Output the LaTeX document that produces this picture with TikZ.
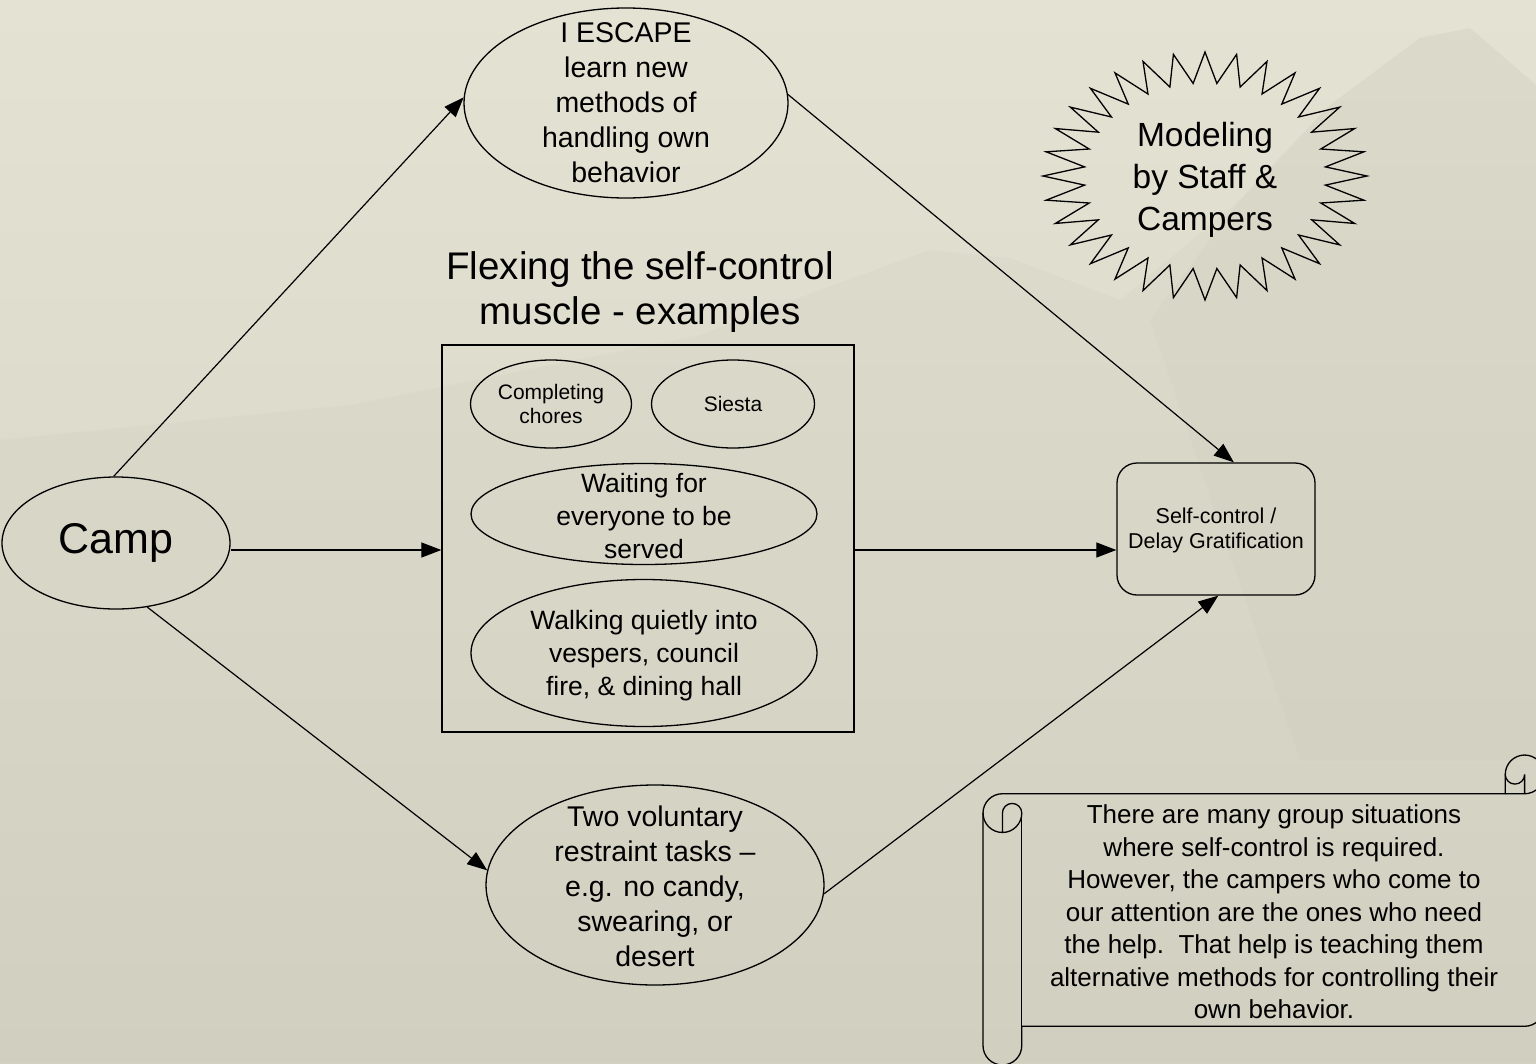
\documentclass[tikz,border=0pt]{standalone}
\usepackage{fontspec}
\setmainfont{Liberation Sans}
\usetikzlibrary{arrows.meta,shapes.geometric,calc}
\definecolor{paperTop}{HTML}{E3E2D3}
\definecolor{paperMid}{HTML}{DAD9CA}
\definecolor{paperBot}{HTML}{D3D2C3}
\definecolor{hill}{HTML}{BDBCAD}
\begin{document}
\begin{tikzpicture}[x=1pt,y=-1pt,
  outline/.style={draw=black,line width=1.3pt},
  oval/.style={outline,ellipse,inner sep=0pt},
  conn/.style={draw=black,line width=1.2pt,-{Triangle[length=20pt,width=15pt]}},
  txt/.style={align=center,text=black,inner sep=0pt},
  big/.style={font=\fontsize{28.5}{35}\selectfont},
  mid/.style={font=\fontsize{26.5}{33}\selectfont},
  small/.style={font=\fontsize{21}{24}\selectfont}]

% paper background with a faint hill silhouette
\useasboundingbox (0,0) rectangle (1536,1063);
\shade[top color=paperTop,middle color=paperMid,bottom color=paperBot] (0,0) rectangle (1536,1063);
\fill[hill,opacity=.10] (0,440) -- (350,405) -- (700,335) -- (820,290) -- (930,250)
  -- (1010,258) -- (1120,300) -- (1240,200) -- (1330,105) -- (1420,38) -- (1470,28)
  -- (1536,85) -- (1536,1063) -- (0,1063) -- cycle;
\fill[hill,opacity=.10] (1150,320) -- (1240,200) -- (1330,105) -- (1420,38) -- (1470,28)
  -- (1536,85) -- (1536,760) -- (1300,760) -- cycle;

% main nodes
\node[oval,minimum width=228pt,minimum height=132pt] (camp) at (116,543) {};
\node[txt,font=\fontsize{43}{50}\selectfont] (campT) at (camp) {Camp};

\node[oval,minimum width=324pt,minimum height=190pt] (esc) at (626,103) {};
\node[txt,big] (escT) at (626,103) {I ESCAPE\\learn new\\methods of\\handling own\\behavior};

\node[txt,font=\fontsize{38.5}{45}\selectfont] (title) at (640,292) {Flexing the self-control\\muscle - examples};

\node[outline,rectangle,minimum width=412pt,minimum height=387pt,inner sep=0pt] (box) at (648,538.5) {};
\node[oval,minimum width=161pt,minimum height=88pt] (chores) at (551,404) {};
\node[txt,small] (choresT) at (chores) {Completing\\chores};
\node[oval,minimum width=163pt,minimum height=88pt] (siesta) at (733,404) {};
\node[txt,small] (siestaT) at (siesta) {Siesta};
\node[oval,minimum width=346pt,minimum height=101pt] (wait) at (644,514) {};
\node[txt,mid] (waitT) at (644,516) {Waiting for\\everyone to be\\served};
\node[oval,minimum width=346pt,minimum height=147pt] (walk) at (644,653) {};
\node[txt,mid] (walkT) at (644,656) {Walking quietly into\\vespers, council\\fire, \& dining hall};

\node[oval,minimum width=338pt,minimum height=200pt] (tasks) at (655,885) {};
\node[txt,big] (tasksT) at (655,886) {Two voluntary\\restraint tasks --\\e.g. no candy,\\swearing, or\\desert};

\node[outline,rectangle,rounded corners=20pt,minimum width=198pt,minimum height=132pt,inner sep=0pt] (goal) at (1216,529) {};
\node[txt,font=\fontsize{21.5}{25}\selectfont] (goalT) at (1216,530) {Self-control /\\Delay Gratification};

% 32-point burst
\draw[line width=1.3pt,line join=miter] plot[samples=65,domain=0:64,variable=\k]
  ({1205+ifthenelse(mod(\k,2)==0,162,121)*cos(90+\k*5.625)},
   {176-ifthenelse(mod(\k,2)==0,124,93)*sin(90+\k*5.625)}) -- cycle;
\node[txt,font=\fontsize{33.5}{42}\selectfont] (model) at (1205,180) {Modeling\\by Staff \&\\Campers};

% connectors
\coordinate (lvl) at (0,550);
\draw[conn] (camp.92) -- (esc.178);
\draw[conn] (camp.east |- lvl) -- (box.west |- lvl);
\draw[conn] (camp.-64) -- (tasks.175);
\draw[conn] (esc.3) -- (goal.75);
\draw[conn] (box.east |- lvl) -- (goal.west |- lvl);
\draw[conn] (tasks.-3) -- (goal.-88);

% horizontal scroll
\begin{scope}[line width=1.3pt]
\draw (983,813.1) arc[start angle=180,delta angle=90,radius=19.375]
  -- (1505.25,793.75) -- (1505.25,774.4)
  arc[start angle=180,delta angle=180,radius=19.375]
  -- (1544,1006.9) arc[start angle=0,delta angle=90,radius=19.375]
  -- (1021.75,1026.25) -- (1021.75,1045.6)
  arc[start angle=0,delta angle=180,radius=19.375] -- cycle;
\draw (1505.25,793.75) -- (1524.6,793.75) arc[start angle=90,delta angle=-90,radius=19.375];
\draw (1524.6,793.75) -- (1524.6,774.4) arc[start angle=0,delta angle=180,radius=9.6875];
\draw (1002.4,832.5) -- (1002.4,813.1) arc[start angle=180,delta angle=180,radius=9.6875]
  arc[start angle=0,delta angle=180,radius=19.375];
\draw (1021.75,813.1) -- (1021.75,1026.25);
\end{scope}
\node[txt,font=\fontsize{26}{32.5}\selectfont] (note) at (1274,912)
  {There are many group situations\\where self-control is required.\\However, the campers who come to\\our attention are the ones who need\\the help.\ \ That help is teaching them\\alternative methods for controlling their\\own behavior.};
\end{tikzpicture}
\end{document}
